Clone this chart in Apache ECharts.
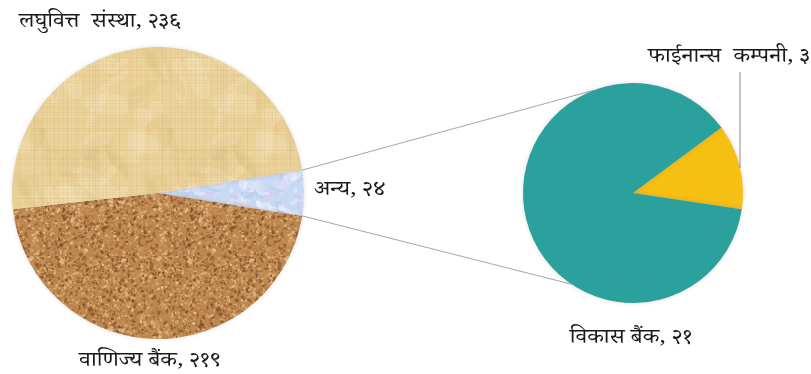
<!DOCTYPE html>
<html>
<head>
<meta charset="utf-8">
<script src="https://cdn.jsdelivr.net/npm/echarts@6/dist/echarts.min.js"></script>
<style>
  html, body { margin: 0; padding: 0; background: #fff; }
  #chart { width: 811px; height: 374px; }
</style>
</head>
<body>
<div id="chart"></div>
<script>
// Main pie: institution groups
const mainNames  = ['अन्य', 'वाणिज्य बैंक', 'लघुवित्त  संस्था'];
const mainValues = [24, 219, 236];
// Breakdown of "अन्य"
const subNames  = ['फाईनान्स  कम्पनी', 'विकास बैंक'];
const subValues = [3, 21];

const FONT = "'Noto Serif Devanagari', 'Noto Sans Devanagari', 'Lohit Devanagari', serif";
const devDigits = '०१२३४५६७८९';
const toDev = v => String(v).replace(/\d/g, d => devDigits[d]);

// Pie geometry (px)
const mainCenter = [158, 193], mainR = 146;
const subCenter  = [633, 193], subR  = 110;

// deterministic generator for surface textures
function lcg(seed) {
  let s = seed >>> 0;
  return () => { s = (Math.imul(s, 1664525) + 1013904223) >>> 0; return s / 4294967296; };
}

function parchment() {
  const c = document.createElement('canvas'); c.width = c.height = 128;
  const g = c.getContext('2d'), r = lcg(7);
  g.fillStyle = '#ebd49c'; g.fillRect(0, 0, 128, 128);
  for (let i = 0; i < 30; i++) {
    g.fillStyle = r() < 0.5 ? 'rgba(255,245,220,0.18)' : 'rgba(205,170,110,0.12)';
    g.beginPath();
    g.ellipse(r() * 128, r() * 128, 8 + r() * 20, 3 + r() * 8, r() * 3, 0, Math.PI * 2);
    g.fill();
  }
  for (let x = 0; x < 128; x += 2 + Math.floor(r() * 3)) {
    g.fillStyle = `rgba(200,160,95,${0.06 + r() * 0.14})`; g.fillRect(x, 0, 1, 128);
  }
  for (let y = 0; y < 128; y += 2 + Math.floor(r() * 3)) {
    g.fillStyle = `rgba(200,160,95,${0.05 + r() * 0.12})`; g.fillRect(0, y, 128, 1);
  }
  return c;
}

function cork() {
  const c = document.createElement('canvas'); c.width = c.height = 128;
  const g = c.getContext('2d'), r = lcg(11);
  g.fillStyle = '#bd874f'; g.fillRect(0, 0, 128, 128);
  const cols = ['#8f5d31', '#7d4f28', '#d9a872', '#e6bd8a', '#a87040', '#cc9663'];
  for (let i = 0; i < 2600; i++) {
    g.fillStyle = cols[Math.floor(r() * cols.length)];
    g.globalAlpha = 0.5 + r() * 0.5;
    g.beginPath();
    g.ellipse(r() * 128, r() * 128, 0.6 + r() * 1.6, 0.5 + r() * 1.1, r() * 3, 0, Math.PI * 2);
    g.fill();
  }
  g.globalAlpha = 1;
  return c;
}

function marble() {
  const c = document.createElement('canvas'); c.width = c.height = 64;
  const g = c.getContext('2d'), r = lcg(23);
  g.fillStyle = '#c8d9f3'; g.fillRect(0, 0, 64, 64);
  const cols = ['rgba(225,208,238,0.5)', 'rgba(238,244,255,0.5)', 'rgba(180,204,236,0.5)', 'rgba(215,230,250,0.5)'];
  for (let i = 0; i < 140; i++) {
    g.fillStyle = cols[Math.floor(r() * cols.length)];
    g.beginPath();
    g.ellipse(r() * 64, r() * 64, 2 + r() * 6, 1 + r() * 4, r() * 3, 0, Math.PI * 2);
    g.fill();
  }
  return c;
}

const fillList = [
  { image: marble(), repeat: 'repeat' },
  { image: cork(), repeat: 'repeat' },
  { image: parchment(), repeat: 'repeat' }
];
const subColors = ['#f6bf13', '#2aa19c'];

// label anchors: text position and alignment, in the order of the name arrays
const mainSpots = [
  { x: 350, y: 193, align: 'center' },
  { x: 150, y: 364, align: 'center' },
  { x: 100, y: 25, align: 'center' }
];
const subSpots = [
  { x: 648, y: 60, align: 'left' },
  { x: 631, y: 341, align: 'center' }
];
// leader line for the small breakdown slice
const leader = [[740, 168], [740, 72]];

const totalMain = mainValues.reduce((a, b) => a + b, 0);
const otherHalf = mainValues[0] / totalMain * 180; // half-angle of the "अन्य" slice

// connector lines from the "अन्य" slice edge to the breakdown pie
const rad = a => a * Math.PI / 180;
const pt = (c, r, a) => [c[0] + r * Math.cos(rad(a)), c[1] - r * Math.sin(rad(a))];
const upA = pt(mainCenter, mainR, otherHalf), upB = pt(subCenter, subR, 111);
const loA = pt(mainCenter, mainR, -otherHalf), loB = pt(subCenter, subR, -124);

const labelTexts = [];
[[mainNames, mainValues, mainSpots], [subNames, subValues, subSpots]].forEach(([names, vals, spots]) => {
  names.forEach((n, i) => {
    const s = spots[i];
    labelTexts.push({
      type: 'text', z: 10, x: s.x, y: s.y, scaleX: 1.17,
      style: {
        text: n + ', ' + toDev(vals[i]),
        font: '20px ' + FONT, fill: '#1a1a1a',
        align: s.align, verticalAlign: 'middle'
      }
    });
  });
});

const chart = echarts.init(document.getElementById('chart'), null, { renderer: 'canvas' });
chart.setOption({
  backgroundColor: '#ffffff',
  animation: false,
  graphic: [
    { type: 'line', z: 0, shape: { x1: upA[0], y1: upA[1], x2: upB[0], y2: upB[1] }, style: { stroke: '#a6a6a6', lineWidth: 1 } },
    { type: 'line', z: 0, shape: { x1: loA[0], y1: loA[1], x2: loB[0], y2: loB[1] }, style: { stroke: '#a6a6a6', lineWidth: 1 } },
    { type: 'polyline', z: 10, shape: { points: leader }, style: { stroke: '#8c8c8c', lineWidth: 1, fill: null } }
  ].concat(labelTexts),
  series: [
    {
      type: 'pie', z: 2,
      center: mainCenter, radius: mainR,
      startAngle: otherHalf, clockwise: true,
      label: { show: false }, labelLine: { show: false },
      itemStyle: { borderWidth: 0, shadowBlur: 4, shadowColor: 'rgba(0,0,0,0.12)' },
      emphasis: { disabled: true },
      data: mainNames.map((n, i) => ({ name: n, value: mainValues[i], itemStyle: { color: fillList[i] } }))
    },
    {
      type: 'pie', z: 2,
      center: subCenter, radius: subR,
      startAngle: 36.5, clockwise: true,
      label: { show: false }, labelLine: { show: false },
      itemStyle: { borderWidth: 0, shadowBlur: 4, shadowColor: 'rgba(120,40,60,0.18)' },
      emphasis: { disabled: true },
      data: subNames.map((n, i) => ({ name: n, value: subValues[i], itemStyle: { color: subColors[i] } }))
    }
  ]
});
</script>
</body>
</html>
